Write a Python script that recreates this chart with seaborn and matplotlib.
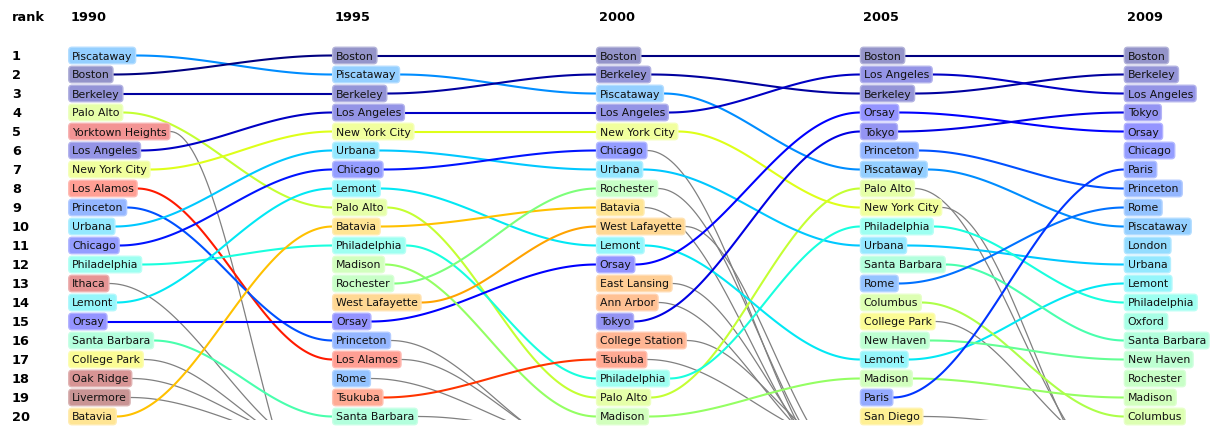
import numpy as np
import pandas as pd
import matplotlib
matplotlib.use("Agg")
import matplotlib.pyplot as plt
import seaborn as sns

# ---------------- data ----------------
years = ["1990", "1995", "2000", "2005", "2009"]

rank_1990 = ["Piscataway", "Boston", "Berkeley", "Palo Alto", "Yorktown Heights",
             "Los Angeles", "New York City", "Los Alamos", "Princeton", "Urbana",
             "Chicago", "Philadelphia", "Ithaca", "Lemont", "Orsay",
             "Santa Barbara", "College Park", "Oak Ridge", "Livermore", "Batavia"]
rank_1995 = ["Boston", "Piscataway", "Berkeley", "Los Angeles", "New York City",
             "Urbana", "Chicago", "Lemont", "Palo Alto", "Batavia",
             "Philadelphia", "Madison", "Rochester", "West Lafayette", "Orsay",
             "Princeton", "Los Alamos", "Rome", "Tsukuba", "Santa Barbara"]
rank_2000 = ["Boston", "Berkeley", "Piscataway", "Los Angeles", "New York City",
             "Chicago", "Urbana", "Rochester", "Batavia", "West Lafayette",
             "Lemont", "Orsay", "East Lansing", "Ann Arbor", "Tokyo",
             "College Station", "Tsukuba", "Philadelphia", "Palo Alto", "Madison"]
rank_2005 = ["Boston", "Los Angeles", "Berkeley", "Orsay", "Tokyo",
             "Princeton", "Piscataway", "Palo Alto", "New York City", "Philadelphia",
             "Urbana", "Santa Barbara", "Rome", "Columbus", "College Park",
             "New Haven", "Lemont", "Madison", "Paris", "San Diego"]
rank_2009 = ["Boston", "Berkeley", "Los Angeles", "Tokyo", "Orsay",
             "Chicago", "Paris", "Princeton", "Rome", "Piscataway",
             "London", "Urbana", "Lemont", "Philadelphia", "Oxford",
             "Santa Barbara", "New Haven", "Rochester", "Madison", "Columbus"]
rankings = [rank_1990, rank_1995, rank_2000, rank_2005, rank_2009]

# cities that leave the top 20 (estimated off-chart rank in the following year)
dropped_after_1990 = {"Yorktown Heights": 27, "Ithaca": 22, "College Park": 22,
                      "Oak Ridge": 21.5, "Livermore": 21.4}
dropped_after_1995 = {"Princeton": 22, "Los Alamos": 21.8, "Rome": 21.4,
                      "Santa Barbara": 21}
dropped_after_2000 = {"Chicago": 24, "Rochester": 23.5, "Batavia": 23.5,
                      "West Lafayette": 23, "East Lansing": 23, "Ann Arbor": 22.5,
                      "College Station": 22, "Tsukuba": 21.5}
dropped_after_2005 = {"Palo Alto": 23, "New York City": 24, "College Park": 22,
                      "San Diego": 20.9}
dropped = [dropped_after_1990, dropped_after_1995, dropped_after_2000,
           dropped_after_2005]

# colour order (jet colormap)
extra_cities = ["Palo Alto", "New York City", "College Park", "San Diego",
                "Batavia", "West Lafayette", "East Lansing", "Ann Arbor",
                "College Station", "Tsukuba", "Los Alamos", "Yorktown Heights",
                "Ithaca", "Oak Ridge", "Livermore"]
color_order = rank_2009 + extra_cities

# ---------------- figure ----------------
sns.set_theme(style="white")
plt.rcParams["font.family"] = ["DejaVu Sans"]
plt.rcParams["text.color"] = "black"

W, H = 1211, 427
fig = plt.figure(figsize=(W / 100, H / 100), dpi=100)
ax = fig.add_axes([0, 6 / H, 1, 421 / H])
col_px0, col_dx = 72.0, 263.9
row_px0, row_dy = 56.5, 19.0
XLIM = (-col_px0 / col_dx, (W - col_px0) / col_dx)
YLIM = (1 + (421 - row_px0) / row_dy, 1 - row_px0 / row_dy)
ax.set_xlim(*XLIM)
ax.set_ylim(*YLIM)
ax.axis("off")

cmap = plt.get_cmap("jet")
n = len(color_order)
colors = {c: cmap(i / (n - 1))[:3] for i, c in enumerate(color_order)}

alpha_fill = 0.42
texts = {}
for j, ranking in enumerate(rankings):
    for r, city in enumerate(ranking, start=1):
        c = np.array(colors[city])
        fc = tuple(1 - alpha_fill * (1 - c))
        ec = tuple(1 - 0.30 * (1 - c))
        t = ax.text(j, r, city, fontsize=7.8, va="center", ha="left",
                    color="#111111", zorder=3,
                    bbox=dict(boxstyle="round,pad=0.3", fc=fc, ec=ec, lw=1.0))
        texts[(j, city)] = t

rank_x = (12 - col_px0) / col_dx
head_y = 1 - (row_px0 - 17.5) / row_dy
ax.text(rank_x, head_y, "rank", fontsize=9.3, fontweight="bold", va="center",
        ha="left", color="black")
for j, y in enumerate(years):
    ax.text(j - 1 / col_dx, head_y, y, fontsize=9.3, fontweight="bold",
            va="center", ha="left", color="black")
for r in range(1, 21):
    ax.text(rank_x, r, str(r), fontsize=9.3, fontweight="bold", va="center",
            ha="left", color="black")

fig.canvas.draw()
renderer = fig.canvas.get_renderer()
inv = ax.transData.inverted()


def box_edges(t):
    bb = t.get_bbox_patch().get_window_extent(renderer)
    (x0, _), (x1, _) = inv.transform([[bb.x0, bb.y0], [bb.x1, bb.y1]])
    return x0, x1


def curve(xa, ya, xb, yb, npts=80):
    tt = np.linspace(0, 1, npts)
    f = (1 - np.cos(np.pi * tt)) / 2
    return xa + (xb - xa) * tt, ya + (yb - ya) * f


rows_c, rows_g = [], []
seg = 0
for j in range(4):
    cur, nxt = rankings[j], rankings[j + 1]
    for r0, city in enumerate(cur, start=1):
        _, xa = box_edges(texts[(j, city)])
        if city in nxt:
            r1 = nxt.index(city) + 1
            xb, _ = box_edges(texts[(j + 1, city)])
            xs, ys = curve(xa, r0, xb, r1)
            for x, y in zip(xs, ys):
                rows_c.append((seg, city, x, y))
        else:
            r1 = dropped[j][city]
            xb = (j + 1) - 2.5 / col_dx
            xs, ys = curve(xa, r0, xb, r1)
            for x, y in zip(xs, ys):
                rows_g.append((seg, city, x, y))
        seg += 1

df_c = pd.DataFrame(rows_c, columns=["seg", "city", "x", "y"])
df_g = pd.DataFrame(rows_g, columns=["seg", "city", "x", "y"])

sns.lineplot(data=df_g, x="x", y="y", units="seg", estimator=None, sort=False,
             color="#808080", lw=0.9, legend=False, ax=ax, zorder=1)
sns.lineplot(data=df_c, x="x", y="y", units="seg", estimator=None, sort=False,
             hue="city", palette=colors, lw=1.5, legend=False, ax=ax, zorder=2)

ax.set_xlim(*XLIM)
ax.set_ylim(*YLIM)
ax.axis("off")

fig.savefig("out.png", dpi=100)
